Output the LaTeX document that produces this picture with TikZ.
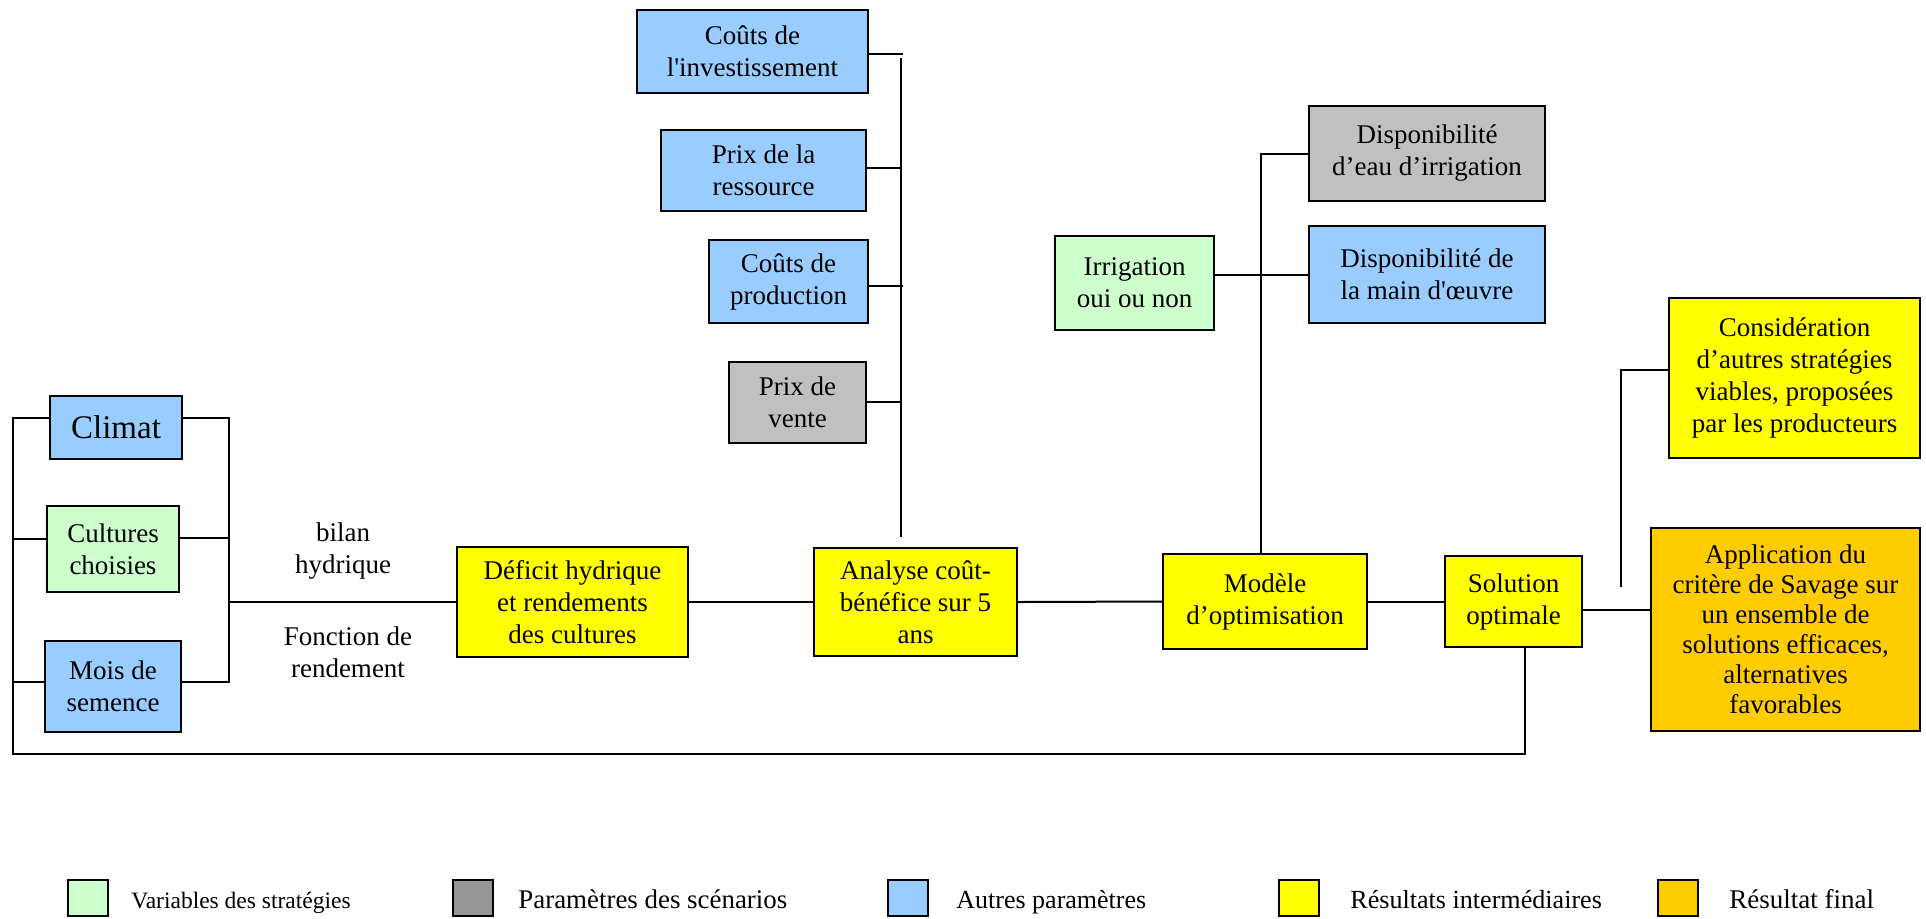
\documentclass[tikz,border=0pt]{standalone}
\usepackage{fontspec}
\setmainfont{Liberation Serif}[Ligatures=TeXOff]
\definecolor{cgreen}{HTML}{CCFFCC}
\definecolor{cblue}{HTML}{99CCFF}
\definecolor{cgray}{HTML}{C0C0C0}
\definecolor{cdgray}{HTML}{969696}
\definecolor{cyellow}{HTML}{FFFF00}
\definecolor{corange}{HTML}{FFCC00}
\tikzset{
  box/.style={draw=black, line width=1pt, inner sep=0pt, align=center,
    font=\fontsize{13.5}{16}\selectfont},
  conn/.style={draw=black, line width=1pt},
  legbox/.style={draw=black, line width=1pt, minimum width=20pt, minimum height=18pt, inner sep=0pt},
  legtxt/.style={anchor=base west, inner sep=0pt, font=\fontsize{11.75}{14}\selectfont},
  lbl/.style={align=center, inner sep=0pt, font=\fontsize{13.5}{16}\selectfont}
}
\begin{document}
\begin{tikzpicture}[x=0.5pt, y=-0.5pt]
\useasboundingbox[fill=white] (0,0) rectangle (1926,918);

% left group
\node[box, fill=cblue, minimum width=66pt, minimum height=31.5pt, font=\fontsize{16.5}{19}\selectfont] (climat) at (116,427.5) {Climat};
\node[box, fill=cgreen, minimum width=66pt, minimum height=43pt] (cultures) at (113,549) {Cultures\\choisies};
\node[box, fill=cblue, minimum width=68pt, minimum height=45.5pt] (mois) at (113,686.5) {Mois de\\semence};

% main chain
\node[box, fill=cyellow, minimum width=115.5pt, minimum height=55pt] (deficit) at (572.5,602) {Déficit hydrique\\et rendements\\des cultures};
\node[box, fill=cyellow, minimum width=101.5pt, minimum height=54pt] (analyse) at (915.5,602) {Analyse coût-\\bénéfice sur 5\\ans};
\node[box, fill=cyellow, minimum width=102pt, minimum height=47.5pt] (modele) at (1265,601.5) {Modèle\\d’optimisation};
\node[box, fill=cyellow, minimum width=68.5pt, minimum height=45.5pt] (solution) at (1513.5,601.5) {Solution\\optimale};

% cost parameters
\node[box, fill=cblue, minimum width=115.5pt, minimum height=41.5pt] (invest) at (752.5,51.5) {Coûts de\\l'investissement};
\node[box, fill=cblue, minimum width=102.5pt, minimum height=40.5pt] (ressource) at (763.5,170.5) {Prix de la\\ressource};
\node[box, fill=cblue, minimum width=79.5pt, minimum height=41.5pt] (production) at (788.5,281.5) {Coûts de\\production};
\node[box, fill=cgray, minimum width=68.5pt, minimum height=40.5pt] (vente) at (797.5,402.5) {Prix de\\vente};

% optimisation inputs
\node[box, fill=cgreen, minimum width=79.5pt, minimum height=47pt] (irrig) at (1134.5,283) {Irrigation\\oui ou non};
\node[box, fill=cgray, minimum width=118pt, minimum height=47.5pt] (dispeau) at (1427,153.5) {Disponibilité\\d’eau d’irrigation};
\node[box, fill=cblue, minimum width=118pt, minimum height=48.5pt] (dispmain) at (1427,274.5) {Disponibilité de\\la main d'œuvre};

% results
\node[box, fill=cyellow, minimum width=125.5pt, minimum height=80pt] (consid) at (1794.5,378) {Considération\\d’autres stratégies\\viables, proposées\\par les producteurs};
\node[box, fill=corange, minimum width=134.5pt, minimum height=101.5pt, font=\fontsize{13.5}{15}\selectfont] (appli) at (1785.5,629.5) {Application du\\critère de Savage sur\\un ensemble de\\solutions efficaces,\\alternatives\\favorables};

% labels
\node[lbl] (bilan) at (343,551) {bilan\\hydrique};
\node[lbl] (fonction) at (348,652) {Fonction de\\rendement};

% coordinates
\coordinate (L1) at (13,418);
\coordinate (L2) at (13,539);
\coordinate (L3) at (13,682);
\coordinate (Lb) at (13,754);
\coordinate (Rb) at (1525,754);
\coordinate (R1) at (229,418);
\coordinate (R2) at (229,538);
\coordinate (R3) at (229,682);
\coordinate (Rm) at (229,602);
\coordinate (Vt) at (901,58);
\coordinate (Vb) at (901,537);
\coordinate (Vi) at (903,54);
\coordinate (Vr) at (901,168);
\coordinate (Vp) at (903,286);
\coordinate (Vv) at (901,402);
\coordinate (S2) at (1582,610);
\coordinate (Ct) at (1621,370);
\coordinate (Cb) at (1621,587);

% left bracket and feedback loop
\draw[conn] (climat.west |- L1) -- (L1) -- (Lb) -- (Rb) -- (solution.south -| Rb);
\draw[conn] (cultures.west |- L2) -- (L2);
\draw[conn] (mois.west |- L3) -- (L3);

% right bracket
\draw[conn] (climat.east |- R1) -- (R1) -- (R3) -- (mois.east |- R3);
\draw[conn] (cultures.east |- R2) -- (R2);
\draw[conn] (Rm) -- (deficit.west);

% chain
\draw[conn] (deficit.east) -- (analyse.west);
\draw[conn] (analyse.east) -- (modele.west);
\draw[conn] (modele.east) -- (solution.west);

% cost bus
\draw[conn] (Vt) -- (Vb);
\draw[conn] (invest.east |- Vi) -- (Vi);
\draw[conn] (ressource.east |- Vr) -- (Vr);
\draw[conn] (production.east |- Vp) -- (Vp);
\draw[conn] (vente.east |- Vv) -- (Vv);

% optimisation bus
\draw[conn] ([xshift=-2pt]modele.north) -- ([xshift=-2pt]modele.north |- dispeau.west) -- (dispeau.west);
\draw[conn] (irrig.east |- dispmain.west) -- (dispmain.west);

% results
\draw[conn] (solution.east |- S2) -- (appli.west |- S2);
\draw[conn] (Cb) -- (Ct) -- (consid.west |- Ct);

% legend
\node[legbox, fill=cgreen] (lg1) at (87.5,898) {};
\node[legbox, fill=cdgray] (lg2) at (473,898) {};
\node[legbox, fill=cblue] (lg3) at (907.5,898) {};
\node[legbox, fill=cyellow] (lg4) at (1298.5,898) {};
\node[legbox, fill=corange] (lg5) at (1678,898) {};
\node[legtxt] (lt1) at (131,908) {Variables des stratégies};
\node[legtxt, font=\fontsize{13.45}{15}\selectfont] (lt2) at (518,908) {Paramètres des scénarios};
\node[legtxt, font=\fontsize{13}{15}\selectfont] (lt3) at (956,908) {Autres paramètres};
\node[legtxt, font=\fontsize{13.05}{15}\selectfont] (lt4) at (1350,908) {Résultats intermédiaires};
\node[legtxt, font=\fontsize{13.5}{15}\selectfont] (lt5) at (1729,908) {Résultat final};
\end{tikzpicture}
\end{document}
